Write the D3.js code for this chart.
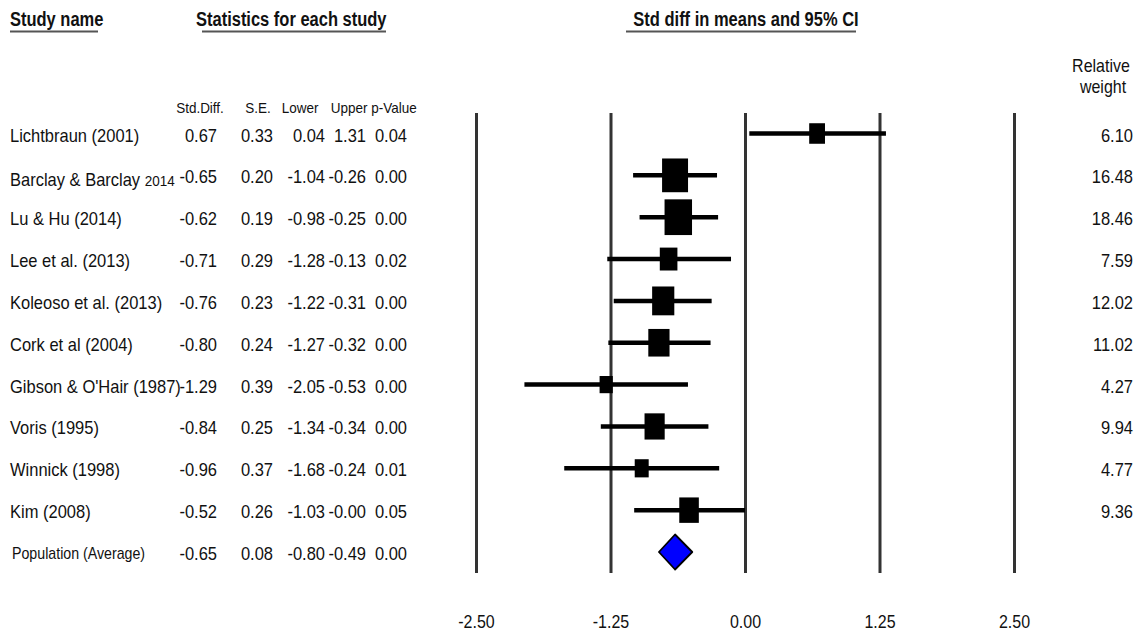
<!DOCTYPE html>
<html>
<head>
<meta charset="utf-8">
<script src="https://cdn.jsdelivr.net/npm/d3@7"></script>
<style>
  body { margin: 0; background: #fff; }
  svg { display: block; font-family: "Liberation Sans", Arial, sans-serif; }
</style>
</head>
<body>
<svg id="chart" width="1141" height="635"></svg>
<script>
// Study-level results (standardised difference in means, 95% CI)
const studies = [
  "Lichtbraun (2001)", "Barclay & Barclay 2014", "Lu & Hu (2014)", "Lee et al. (2013)",
  "Koleoso et al. (2013)", "Cork et al (2004)", "Gibson & O'Hair (1987)", "Voris (1995)",
  "Winnick (1998)", "Kim (2008)"
];
const stdDiff = [0.67, -0.65, -0.62, -0.71, -0.76, -0.80, -1.29, -0.84, -0.96, -0.52];
const stdErr  = [0.33, 0.20, 0.19, 0.29, 0.23, 0.24, 0.39, 0.25, 0.37, 0.26];
const lower   = [0.04, -1.04, -0.98, -1.28, -1.22, -1.27, -2.05, -1.34, -1.68, -1.03];
const upper   = [1.31, -0.26, -0.25, -0.13, -0.31, -0.32, -0.53, -0.34, -0.24, -0.00];
const pValue  = [0.04, 0.00, 0.00, 0.02, 0.00, 0.00, 0.00, 0.00, 0.01, 0.05];
const weights = [6.10, 16.48, 18.46, 7.59, 12.02, 11.02, 4.27, 9.94, 4.77, 9.36];

// Pooled estimate
const summaryName = "Population (Average)";
const summary = { est: -0.65, se: 0.08, lower: -0.80, upper: -0.49, p: 0.00 };

const axisTicks = [-2.5, -1.25, 0, 1.25, 2.5];
const columnHeads = ["Std.Diff.", "S.E.", "Lower", "Upper", "p-Value"];

// two-decimal format that keeps a leading "-" on negative zero
const fmt = v => ((v < 0 || Object.is(v, -0)) ? "-" : "") + Math.abs(v).toFixed(2);

const svg = d3.select("#chart");

const x = d3.scaleLinear().domain([-2.5, 2.5]).range([476, 1014]);
const rowIdx = d3.range(studies.length + 1);
const y = d3.scalePoint().domain(rowIdx).range([133.5, 552]);
const boxW = d3.scaleSqrt().domain([0, 20]).range([0, 28.6]);

function label(sel, px, py, s, o = {}) {
  const t = sel.append("text")
    .attr("transform", `translate(${px},${py}) scale(1,${o.sy ?? 1.15})`)
    .attr("font-size", o.size ?? 16.5)
    .attr("font-weight", o.weight ?? "normal")
    .attr("text-anchor", o.anchor ?? "start")
    .attr("fill", "#111");
  if (s !== null) t.text(s);
  return t;
}

// ---- section headings
const head = svg.append("g");
label(head, 10, 26, "Study name", { weight: "bold", sy: 1.25 });
label(head, 196, 26, "Statistics for each study", { weight: "bold", sy: 1.25 });
label(head, 746, 26, "Std diff in means and 95% CI", { weight: "bold", sy: 1.25, anchor: "middle" });
[[10, 98], [202, 386], [626, 856]].forEach(([a, b]) =>
  head.append("line").attr("x1", a).attr("x2", b).attr("y1", 31.5).attr("y2", 31.5)
    .attr("stroke", "#555").attr("stroke-width", 2));

label(head, 1101, 72, "Relative", { anchor: "middle", size: 16 });
label(head, 1103, 93, "weight", { anchor: "middle", size: 16 });

// ---- statistic column headers
const headX = [200, 258, 300, 349, 394];
columnHeads.forEach((h, i) => label(head, headX[i], 113, h, { size: 13.5, sy: 1.15, anchor: "middle" }));

// ---- vertical reference lines and axis labels
const axis = d3.axisBottom(x)
  .tickValues(axisTicks)
  .tickSize(-(573 - 113))
  .tickPadding(0)
  .tickFormat(fmt);
const axG = svg.append("g").attr("transform", "translate(0,573)").call(axis);
axG.select(".domain").remove();
axG.selectAll(".tick line").attr("stroke", "#333").attr("stroke-width", 3);
axG.selectAll(".tick text")
  .attr("y", 0).attr("dy", null)
  .attr("transform", "translate(0,55) scale(1,1.12)")
  .attr("font-size", 16).attr("fill", "#111")
  .attr("font-family", "Liberation Sans, Arial, sans-serif");

// ---- study rows: text columns
const rowsG = svg.append("g");
const colEnd = [217, 273, 325, 366, 407];
studies.forEach((name, i) => {
  const by = y(i) + 8;
  if (name.endsWith(" 2014") && name.startsWith("Barclay")) {
    const t = label(rowsG, 10, by + 3, null);
    t.append("tspan").text("Barclay & Barclay ");
    t.append("tspan").attr("font-size", 13.5).text("2014");
  } else {
    label(rowsG, 10, by, name);
  }
  [stdDiff[i], stdErr[i], lower[i], upper[i], pValue[i]].forEach((v, j) =>
    label(rowsG, colEnd[j], by, fmt(v), { anchor: "end" }));
  label(rowsG, 1133, by, fmt(weights[i]), { anchor: "end" });
});

// summary row text
const sy = y(studies.length) + 8;
label(rowsG, 12, sy - 1, summaryName, { size: 14.2, sy: 1.15 });
[summary.est, summary.se, summary.lower, summary.upper, summary.p].forEach((v, j) =>
  label(rowsG, colEnd[j], sy, fmt(v), { anchor: "end" }));

// ---- confidence intervals and point estimates
const marks = svg.append("g");
marks.selectAll("line.ci").data(d3.range(studies.length)).join("line")
  .attr("class", "ci")
  .attr("x1", i => x(lower[i])).attr("x2", i => x(upper[i]))
  .attr("y1", i => y(i)).attr("y2", i => y(i))
  .attr("stroke", "#000").attr("stroke-width", 4.5);

marks.selectAll("rect.box").data(d3.range(studies.length)).join("rect")
  .attr("class", "box")
  .attr("x", i => x(stdDiff[i]) - boxW(weights[i]) / 2)
  .attr("width", i => boxW(weights[i]))
  .attr("y", i => y(i) - boxW(weights[i]) * 1.3 / 2)
  .attr("height", i => boxW(weights[i]) * 1.3)
  .attr("fill", "#000");

// pooled diamond
const dy0 = y(studies.length);
marks.append("path")
  .attr("d", d3.line()([
    [x(summary.lower), dy0], [x(summary.est), dy0 - 17.5],
    [x(summary.upper), dy0], [x(summary.est), dy0 + 17.5]
  ]) + "Z")
  .attr("fill", "#0000ff").attr("stroke", "#000").attr("stroke-width", 1.8)
  .attr("stroke-linejoin", "round");
</script>
</body>
</html>
